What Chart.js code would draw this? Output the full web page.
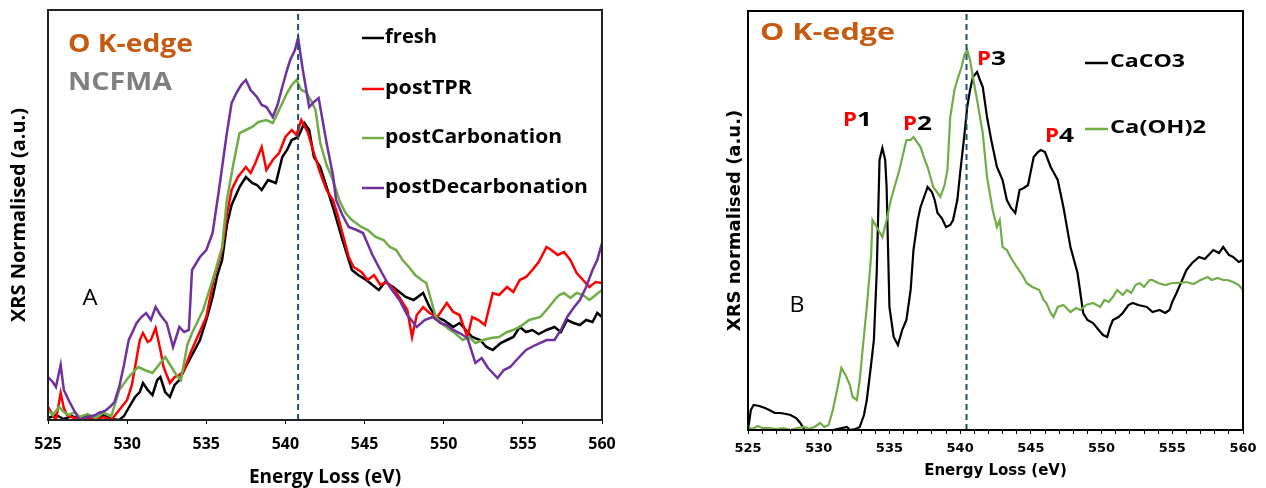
<!DOCTYPE html>
<html>
<head>
<meta charset="utf-8">
<script src="https://cdn.jsdelivr.net/npm/chart.js@4.4.1/dist/chart.umd.min.js"></script>
<style>
  body { margin: 0; background: #fff; }
  #wrap { position: relative; width: 1266px; height: 488px; }
  canvas { position: absolute; top: 0; }
</style>
</head>
<body>
<div id="wrap">
  <canvas id="chartA" width="630" height="488" style="left:0"></canvas>
  <canvas id="chartB" width="566" height="488" style="left:700px"></canvas>
</div>
<script>
// ---- panel A : NCFMA samples (energy loss in eV, intensity in a.u.) ----
const freshE = [525, 525.5, 526, 526.5, 527, 527.5, 528, 528.5, 529, 529.5, 529.8, 530.2, 530.5, 530.8, 531, 531.3, 531.6, 531.9, 532.1, 532.4, 532.7, 533, 533.3, 533.7, 534.1, 534.6, 535, 535.4, 535.7, 536, 536.3, 536.6, 537.1, 537.5, 537.9, 538.2, 538.5, 538.9, 539.4, 539.8, 540.1, 540.4, 540.8, 541.2, 541.5, 541.8, 542.2, 542.6, 543, 543.6, 544.2, 544.6, 545.1, 545.5, 545.9, 546.3, 546.8, 547.2, 547.6, 548.1, 548.7, 549.1, 549.5, 550, 550.6, 551, 551.4, 551.8, 552.3, 552.7, 553.1, 553.6, 554, 554.4, 554.8, 555.2, 555.6, 556, 556.5, 557, 557.4, 557.8, 558.2, 558.6, 559, 559.4, 559.7, 560];
const freshY = [2, 5, 1, 4, 1, 4, 2, 5, 1, 0, 4, 15, 23, 28, 37, 30, 25, 40, 43, 28, 23, 35, 40, 53, 65, 80, 100, 123, 145, 160, 195, 215, 233, 243, 237, 235, 230, 240, 237, 263, 270, 280, 283, 297, 290, 263, 253, 233, 213, 180, 150, 145, 140, 135, 130, 138, 133, 128, 123, 120, 127, 113, 103, 100, 93, 97, 90, 83, 80, 73, 70, 77, 80, 83, 93, 88, 90, 86, 90, 93, 88, 100, 97, 95, 100, 98, 107, 103];

const tprE = [525, 525.3, 525.5, 525.8, 526, 526.2, 526.5, 527, 527.5, 528, 528.5, 529, 529.5, 530, 530.3, 530.5, 530.8, 531, 531.3, 531.5, 531.8, 532.1, 532.3, 532.7, 533, 533.3, 533.6, 534, 534.5, 535, 535.5, 536, 536.3, 536.6, 537, 537.5, 537.8, 538.1, 538.5, 538.8, 539.2, 539.6, 540, 540.4, 540.7, 541, 541.4, 541.8, 542.2, 542.6, 543, 543.3, 543.6, 544, 544.3, 544.8, 545.2, 545.6, 546, 546.4, 546.9, 547.3, 547.7, 548, 548.3, 548.7, 549.1, 549.6, 550.2, 550.6, 551, 551.5, 551.8, 552.2, 552.6, 553.1, 553.5, 554, 554.4, 554.8, 555.2, 555.6, 556, 556.5, 556.8, 557.2, 557.6, 558, 558.4, 558.8, 559.2, 559.6, 560];
const tprY = [13, 5, 0, 27, 12, 5, 3, 0, 2, 0, 3, 0, 10, 20, 35, 53, 80, 87, 78, 80, 92, 70, 53, 37, 43, 45, 50, 67, 85, 103, 143, 170, 205, 230, 243, 253, 247, 257, 273, 250, 260, 267, 283, 290, 285, 300, 288, 267, 247, 230, 220, 205, 187, 163, 153, 148, 140, 145, 135, 138, 130, 120, 110, 83, 105, 113, 107, 103, 117, 108, 105, 83, 103, 100, 95, 127, 125, 133, 128, 140, 143, 150, 158, 173, 170, 165, 168, 160, 147, 140, 133, 138, 137];

const carbE = [525, 525.3, 525.7, 526, 526.3, 526.7, 527, 527.5, 528, 528.5, 529, 529.5, 530.1, 530.7, 531.1, 531.6, 532, 532.4, 532.8, 533.1, 533.4, 533.8, 534.1, 534.8, 535.4, 536, 536.3, 536.7, 537.1, 537.5, 537.9, 538.3, 538.8, 539.2, 539.6, 540.1, 540.4, 540.7, 541, 541.3, 541.6, 541.9, 542.2, 542.6, 543, 543.4, 543.8, 544.2, 544.8, 545.2, 545.7, 546.2, 546.6, 547, 547.4, 547.8, 548.2, 548.6, 548.9, 549.2, 549.5, 550, 550.4, 550.7, 551.2, 551.6, 552, 552.5, 553, 553.5, 554, 554.4, 554.8, 555.4, 556.1, 556.6, 557, 557.3, 557.6, 558, 558.4, 558.8, 559.2, 559.6, 560];
const carbY = [10, 5, 13, 8, 5, 8, 3, 6, 2, 7, 4, 30, 43, 53, 50, 47, 55, 63, 53, 45, 40, 75, 87, 110, 140, 173, 220, 255, 287, 290, 293, 298, 300, 297, 310, 327, 335, 340, 330, 328, 320, 310, 277, 255, 240, 220, 207, 200, 193, 190, 183, 180, 173, 170, 160, 153, 145, 140, 137, 120, 103, 95, 90, 87, 80, 83, 77, 80, 82, 83, 88, 90, 93, 100, 103, 112, 120, 125, 127, 122, 127, 125, 120, 125, 130];

const decarbE = [525, 525.3, 525.5, 525.8, 526, 526.3, 526.7, 527, 527.5, 528, 528.2, 528.6, 528.9, 529.2, 529.5, 529.8, 530.1, 530.4, 530.6, 530.9, 531.2, 531.5, 531.8, 532.1, 532.5, 532.9, 533.3, 533.6, 533.9, 534.1, 534.6, 535, 535.4, 535.8, 536.3, 536.6, 536.9, 537.2, 537.5, 537.8, 538.2, 538.5, 538.8, 539.2, 539.5, 539.8, 540.1, 540.3, 540.6, 540.8, 541.1, 541.5, 541.8, 542.1, 542.4, 542.6, 543, 543.2, 543.6, 544, 544.5, 544.9, 545.5, 546.1, 546.6, 547.2, 547.7, 548.3, 548.8, 549.3, 549.8, 550.2, 550.6, 551, 551.5, 552, 552.4, 552.8, 553.1, 553.4, 553.8, 554.2, 554.6, 555.2, 555.8, 556.5, 557, 557.4, 557.8, 558.2, 558.6, 559, 559.4, 559.7, 560];
const decarbY = [43, 38, 33, 55, 30, 20, 8, 0, 3, 5, 7, 9, 13, 18, 33, 55, 80, 90, 97, 103, 107, 100, 113, 105, 97, 73, 93, 88, 90, 150, 163, 170, 187, 230, 287, 317, 327, 335, 340, 330, 323, 315, 313, 303, 315, 333, 350, 360, 370, 382, 350, 313, 318, 322, 295, 277, 245, 220, 205, 193, 190, 187, 165, 147, 133, 120, 105, 93, 100, 103, 97, 95, 90, 87, 82, 57, 62, 52, 47, 42, 50, 53, 60, 70, 75, 80, 80, 90, 103, 112, 120, 133, 150, 160, 177];

// ---- panel B : reference compounds ----
const caco3E = [525, 525.2, 525.4, 525.8, 526.2, 526.5, 526.9, 527.3, 527.7, 528, 528.4, 528.7, 529, 530, 531, 532, 532.2, 532.6, 532.9, 533.2, 533.4, 533.7, 533.9, 534.1, 534.3, 534.5, 534.7, 534.8, 535, 535.3, 535.6, 535.9, 536.2, 536.5, 536.7, 537, 537.2, 537.5, 537.7, 538, 538.2, 538.4, 538.7, 539, 539.3, 539.5, 539.8, 540, 540.3, 540.5, 540.7, 540.9, 541.2, 541.4, 541.6, 541.9, 542.2, 542.6, 543, 543.3, 543.6, 543.9, 544.2, 544.5, 544.8, 545.2, 545.5, 545.7, 546, 546.4, 546.9, 547.3, 547.8, 548.3, 548.7, 549, 549.4, 549.8, 550.1, 550.4, 550.6, 550.8, 551.2, 551.5, 551.9, 552.2, 552.6, 553.2, 553.6, 554.1, 554.5, 554.8, 555, 555.3, 555.7, 556, 556.4, 556.9, 557.3, 557.9, 558.3, 558.6, 559, 559.3, 559.7, 560];
const caco3Y = [0, 20, 25, 24, 22, 20, 17, 17, 16, 15, 12, 7, 0, 0, 0, 3, 0, 1, 3, 15, 30, 65, 90, 157, 270, 282, 270, 243, 123, 93, 85, 100, 110, 140, 180, 210, 223, 235, 243, 238, 230, 217, 212, 203, 205, 210, 230, 257, 295, 323, 340, 353, 358, 350, 343, 313, 290, 263, 250, 230, 222, 217, 240, 242, 245, 273, 278, 280, 278, 263, 250, 223, 183, 157, 117, 110, 107, 100, 95, 93, 103, 110, 113, 117, 125, 127, 125, 123, 118, 120, 117, 120, 128, 137, 150, 160, 167, 173, 171, 180, 177, 183, 175, 173, 168, 170];

const caoh2E = [525, 525.3, 525.7, 526, 526.5, 527, 527.5, 528, 528.5, 529, 529.3, 529.7, 530.1, 530.4, 530.7, 531, 531.3, 531.6, 531.9, 532.2, 532.4, 532.7, 532.9, 533.1, 533.4, 533.7, 533.8, 534.1, 534.5, 534.8, 535.1, 535.3, 535.7, 536, 536.2, 536.5, 536.7, 537, 537.2, 537.5, 537.7, 538.1, 538.4, 538.6, 538.9, 539.1, 539.3, 539.6, 539.8, 540.1, 540.3, 540.5, 540.7, 540.9, 541.2, 541.6, 541.9, 542.3, 542.6, 542.8, 543, 543.3, 543.6, 544, 544.4, 544.7, 545.1, 545.6, 545.9, 546.1, 546.4, 546.6, 546.9, 547.3, 547.8, 548.2, 548.5, 548.9, 549.4, 549.9, 550.2, 550.5, 550.8, 551.1, 551.5, 551.8, 552.1, 552.4, 552.7, 553, 553.4, 553.6, 554, 554.5, 555, 555.5, 556, 556.5, 557, 557.5, 557.8, 558.2, 558.6, 558.9, 559.3, 559.7, 560];
const caoh2Y = [3, 1, 4, 2, 2, 1, 2, 0, 2, 3, 1, 3, 7, 3, 5, 20, 40, 62, 55, 45, 33, 30, 50, 80, 123, 173, 210, 203, 193, 210, 230, 240, 260, 278, 290, 290, 293, 287, 283, 270, 263, 243, 237, 233, 245, 260, 313, 340, 350, 363, 375, 380, 370, 353, 330, 297, 253, 220, 203, 210, 183, 180, 172, 163, 155, 147, 143, 140, 130, 127, 117, 113, 123, 125, 118, 122, 120, 125, 127, 123, 130, 128, 133, 140, 135, 140, 137, 145, 147, 143, 150, 150, 147, 145, 147, 147, 148, 146, 150, 153, 150, 152, 150, 150, 148, 145, 140];

const markA = 540.8;   // dashed reference line, panel A
const markB = 540.45;  // dashed reference line, panel B

function pts(xs, ys) {
    return xs.map((x, i) => ({ x: x, y: ys[i] }));
}

// draws a label squeezed/stretched to the width it has in the figure
function fitText(ctx, txt, x, y, font, color, width, align) {
    ctx.save();
    ctx.font = font;
    ctx.fillStyle = color;
    ctx.textBaseline = 'middle';
    ctx.textAlign = align || 'left';
    const w = ctx.measureText(txt).width;
    ctx.translate(x, y);
    ctx.scale(width ? width / w : 1, 1);
    ctx.fillText(txt, 0, 0);
    ctx.restore();
}

function legendLine(ctx, x1, x2, y, color) {
    ctx.save();
    ctx.strokeStyle = color;
    ctx.lineWidth = 2.5;
    ctx.beginPath();
    ctx.moveTo(x1, y);
    ctx.lineTo(x2, y);
    ctx.stroke();
    ctx.restore();
}

function frame(chart, color) {
    const a = chart.chartArea, ctx = chart.ctx;
    ctx.save();
    ctx.strokeStyle = color;
    ctx.lineWidth = 2;
    ctx.strokeRect(a.left, a.top, a.right - a.left, a.bottom - a.top);
    ctx.restore();
}

const seriesA = [
    { label: 'fresh', e: freshE, v: freshY, color: '#000000' },
    { label: 'postTPR', e: tprE, v: tprY, color: '#FF0000' },
    { label: 'postCarbonation', e: carbE, v: carbY, color: '#70AD47' },
    { label: 'postDecarbonation', e: decarbE, v: decarbY, color: '#7030A0' }
];

const OPEN = '"Open Sans", sans-serif';

const labelsA = {
    id: 'labelsA',
    afterDraw(chart) {
        const ctx = chart.ctx;
        frame(chart, '#222');
        fitText(ctx, 'O K-edge', 68, 45, 'bold 25px ' + OPEN, '#C55A11', 125);
        fitText(ctx, 'NCFMA', 68, 83, 'bold 25px ' + OPEN, '#7F7F7F', 104);
        fitText(ctx, 'A', 90, 299, '21px ' + OPEN, '#000', 15, 'center');
        const rows = [37, 88, 137, 187];
        const widths = [52, 87, 177, 203];
        seriesA.forEach((s, i) => {
            legendLine(ctx, 362, 384, rows[i] + 1, s.color);
            fitText(ctx, s.label, 385, rows[i], 'bold 20px ' + OPEN, '#000', widths[i]);
        });
    }
};

new Chart(document.getElementById('chartA'), {
    type: 'line',
    data: {
        datasets: seriesA.map((s, i) => ({
            label: s.label,
            data: pts(s.e, s.v),
            borderColor: s.color,
            borderWidth: 2.5,
            pointRadius: 0,
            tension: 0,
            order: 4 - i
        })).concat([{
            label: 'edge',
            data: [{ x: markA, y: 0 }, { x: markA, y: 410 }],
            borderColor: '#1F4E79',
            borderWidth: 2,
            borderDash: [6, 4],
            pointRadius: 0,
            order: 0
        }])
    },
    options: {
        responsive: false,
        animation: false,
        layout: { padding: { top: 10, right: 28, left: 0, bottom: 0 } },
        plugins: { legend: { display: false }, tooltip: { enabled: false } },
        scales: {
            x: {
                type: 'linear',
                min: 525,
                max: 560,
                afterFit(scale) { scale.height = 68; },
                ticks: {
                    stepSize: 5,
                    padding: 11,
                    color: '#000',
                    maxRotation: 0,
                    font: { family: OPEN, size: 16, weight: 'bold' }
                },
                grid: { drawOnChartArea: false, tickLength: 4, color: '#000' },
                border: { color: '#000', width: 2 },
                title: {
                    display: true,
                    text: 'Energy Loss (eV)',
                    color: '#000',
                    padding: { top: 0, bottom: 0 },
                    font: { family: OPEN, size: 19, weight: 'bold', lineHeight: 1.1 }
                }
            },
            y: {
                min: 0,
                max: 410,
                afterFit(scale) { scale.width = 48; },
                ticks: { display: false },
                grid: { display: false },
                border: { display: false },
                title: {
                    display: true,
                    text: 'XRS Normalised (a.u.)',
                    color: '#000',
                    padding: { top: 7, bottom: 0 },
                    font: { family: OPEN, size: 20, weight: 'bold' }
                }
            }
        }
    },
    plugins: [labelsA]
});

// ---- panel B ----
const DEJA = '"DejaVu Sans", sans-serif';

const labelsB = {
    id: 'labelsB',
    afterDraw(chart) {
        const ctx = chart.ctx;
        frame(chart, '#000');
        fitText(ctx, 'O K-edge', 60, 33, 'bold 24px ' + OPEN, '#C55A11', 135);
        const peaks = [['1', 143, 121], ['2', 203, 125], ['3', 277, 60], ['4', 345, 137]];
        peaks.forEach(p => {
            fitText(ctx, 'P', p[1], p[2], 'bold 19px ' + OPEN, '#FF0000', 14);
            fitText(ctx, p[0], p[1] + 14, p[2], 'bold 19px ' + OPEN, '#000', 15);
        });
        legendLine(ctx, 385, 408, 63, '#000');
        fitText(ctx, 'CaCO3', 410, 62, 'bold 17px ' + OPEN, '#000', 75);
        legendLine(ctx, 385, 408, 129, '#70AD47');
        fitText(ctx, 'Ca(OH)2', 410, 128, 'bold 17px ' + OPEN, '#000', 96);
        fitText(ctx, 'B', 97, 306, '21px ' + OPEN, '#000', 15, 'center');
    }
};

new Chart(document.getElementById('chartB'), {
    type: 'line',
    data: {
        datasets: [{
            label: 'CaCO3',
            data: pts(caco3E, caco3Y),
            borderColor: '#000000',
            borderWidth: 2.2,
            pointRadius: 0,
            tension: 0,
            order: 2
        }, {
            label: 'Ca(OH)2',
            data: pts(caoh2E, caoh2Y),
            borderColor: '#70AD47',
            borderWidth: 2.2,
            pointRadius: 0,
            tension: 0,
            order: 1
        }, {
            label: 'edge',
            data: [{ x: markB, y: 0 }, { x: markB, y: 419 }],
            borderColor: '#1F4E79',
            borderWidth: 2,
            borderDash: [6, 4],
            pointRadius: 0,
            order: 0
        }]
    },
    options: {
        responsive: false,
        animation: false,
        layout: { padding: { top: 11, right: 23, left: 0, bottom: 0 } },
        plugins: { legend: { display: false }, tooltip: { enabled: false } },
        scales: {
            x: {
                type: 'linear',
                min: 525,
                max: 560,
                afterFit(scale) { scale.height = 58; },
                ticks: {
                    stepSize: 1,
                    autoSkip: false,
                    padding: 7,
                    color: '#000',
                    maxRotation: 0,
                    callback: v => (v % 5 === 0 ? v : ''),
                    font: { family: DEJA, size: 13, weight: 'bold' }
                },
                grid: { drawOnChartArea: false, tickLength: 4, color: '#000' },
                border: { color: '#000', width: 2 },
                title: {
                    display: true,
                    text: 'Energy Loss (eV)',
                    color: '#000',
                    padding: { top: 0, bottom: 8 },
                    font: { family: DEJA, size: 15, weight: 'bold' }
                }
            },
            y: {
                min: 0,
                max: 419,
                afterFit(scale) { scale.width = 48; },
                ticks: { display: false },
                grid: { display: false },
                border: { display: false },
                title: {
                    display: true,
                    text: 'XRS normalised (a.u.)',
                    color: '#000',
                    padding: { top: 25, bottom: 0 },
                    font: { family: DEJA, size: 18, weight: 'bold' }
                }
            }
        }
    },
    plugins: [labelsB]
});
</script>
</body>
</html>
